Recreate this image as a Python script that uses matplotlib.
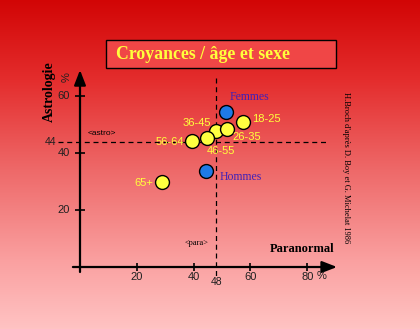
import numpy as np
import matplotlib.pyplot as plt
from matplotlib.patches import Rectangle

# croyance au paranormal (x) et à l'astrologie (y), en %
groupes = ['18-25', '26-35', '36-45', '46-55', '56-64', '65+']
para_age = [57.5, 51.9, 47.8, 44.8, 39.4, 29.0]
astro_age = [50.8, 48.3, 47.7, 45.2, 44.2, 29.7]

sexes = ['Femmes', 'Hommes']
para_sexe = [51.3, 44.5]
astro_sexe = [54.5, 33.6]

moy_para = 48
moy_astro = 44

x_ticks = [20, 40, 60, 80]
y_ticks = [20, 40, 60]

# décalage des étiquettes (pixels)
decal_age = [(23, 3), (19, -8), (-19, 8), (14, -13), (-22, -1), (-19, -1)]
decal_sexe = [(24, 15), (34, -6)]

serif = 'Liberation Serif'
sans = 'Liberation Sans'
jaune = '#ffff3c'
violet = '#4020b8'

fig = plt.figure(figsize=(4.2, 3.29), dpi=100)
ax = fig.add_axes([0, 0, 1, 1])
xmin, xmax = -28.17, 119.72
ymin, ymax = -21.75, 93.68
ax.set_xlim(xmin, xmax)
ax.set_ylim(ymin, ymax)
ax.axis('off')

# fond dégradé rouge -> rose
rows = np.arange(329)
pts = [0, 80, 170, 260, 328]
r = np.interp(rows, pts, [210, 228, 238, 250, 255])
g = np.interp(rows, pts, [5, 45, 105, 160, 195])
b = np.interp(rows, pts, [5, 45, 105, 160, 195])
grad = np.stack([r, g, b], axis=1)[:, None, :] / 255.0
ax.imshow(grad, extent=[xmin, xmax, ymin, ymax], aspect='auto', zorder=0)

# titre
ax.add_patch(Rectangle((9.2, 69.8), 80.9, 9.8, facecolor='#f04646',
                       edgecolor='black', lw=1, zorder=2))
ax.text(43.3, 74.6, 'Croyances / âge et sexe', family=serif, weight='bold',
        fontsize=12.8, color=jaune, ha='center', va='center', zorder=3)

# axes avec flèches
ax.annotate('', xy=(0, 69.1), xytext=(0, -1.75),
            arrowprops=dict(arrowstyle='-|>,head_length=0.9,head_width=0.35',
                            lw=1.6, color='black', shrinkA=0, shrinkB=0), zorder=3)
ax.annotate('', xy=(90.5, 0), xytext=(-2.5, 0),
            arrowprops=dict(arrowstyle='-|>,head_length=0.9,head_width=0.35',
                            lw=1.6, color='black', shrinkA=0, shrinkB=0), zorder=3)
ax.plot(x_ticks, [0] * len(x_ticks), ls='none', marker='|', ms=6, mew=1.2,
        color='black', zorder=3)
ax.plot([0] * len(y_ticks), y_ticks, ls='none', marker='_', ms=7, mew=1.2,
        color='black', zorder=3)
for t in x_ticks:
    ax.text(t, -3.5, str(t), family=sans, fontsize=8, color='#202020',
            ha='center', va='center')
for t in y_ticks:
    ax.text(-3.5, t, str(t), family=sans, fontsize=8, color='#202020',
            ha='right', va='center')
ax.text(85.2, -3.2, '%', family=sans, fontsize=8, color='#202020',
        ha='center', va='center')
ax.text(-4.6, 66.7, '%', family=sans, fontsize=8, color='#202020',
        ha='center', va='center', rotation=90)

# moyennes
ax.plot([-7.7, 87], [moy_astro, moy_astro], ls=(0, (4, 3)), lw=0.9,
        color='black', zorder=2)
ax.plot([moy_para, moy_para], [66.3, -3.5], ls=(0, (4, 3)), lw=0.9,
        color='black', zorder=2)
ax.text(-8.5, moy_astro, str(moy_astro), family=sans, fontsize=7.5,
        color='#202020', ha='right', va='center')
ax.text(moy_para, -5.3, str(moy_para), family=sans, fontsize=7.5,
        color='#202020', ha='center', va='center')
ax.text(7.7, 47.0, '<astro>', family=sans, fontsize=6, ha='center', va='center')
ax.text(41.2, 8.4, '<para>', family=serif, fontsize=6, ha='center', va='center')

# titres des axes
ax.text(-10.9, 61.4, 'Astrologie', family=serif, weight='bold', fontsize=10,
        rotation=90, ha='center', va='center')
ax.text(78.2, 6.3, 'Paranormal', family=serif, weight='bold', fontsize=9,
        ha='center', va='center')
ax.text(93.7, 34.7, "H.Broch d'après D. Boy et G. Michelat 1986", family=serif,
        fontsize=6, rotation=-90, ha='center', va='center')

# points par âge
order = [5, 2, 4, 3, 1, 0]
for i in order:
    ax.scatter(para_age[i], astro_age[i], s=100, color='#ffff40',
               edgecolor='black', lw=1, zorder=4)
for i, nom in enumerate(groupes):
    ax.annotate(nom, (para_age[i], astro_age[i]), xytext=decal_age[i],
                textcoords='offset pixels', family=sans, fontsize=8,
                color=jaune, ha='center', va='center', zorder=5)

# points par sexe
ax.scatter(para_sexe, astro_sexe, s=100, color='#1e7ae6', edgecolor='black',
           lw=1, zorder=4)
for i, nom in enumerate(sexes):
    ax.annotate(nom, (para_sexe[i], astro_sexe[i]), xytext=decal_sexe[i],
                textcoords='offset pixels', family=serif, fontsize=8.5,
                color=violet, ha='center', va='center', zorder=5)

fig.savefig('out.png', dpi=100)
